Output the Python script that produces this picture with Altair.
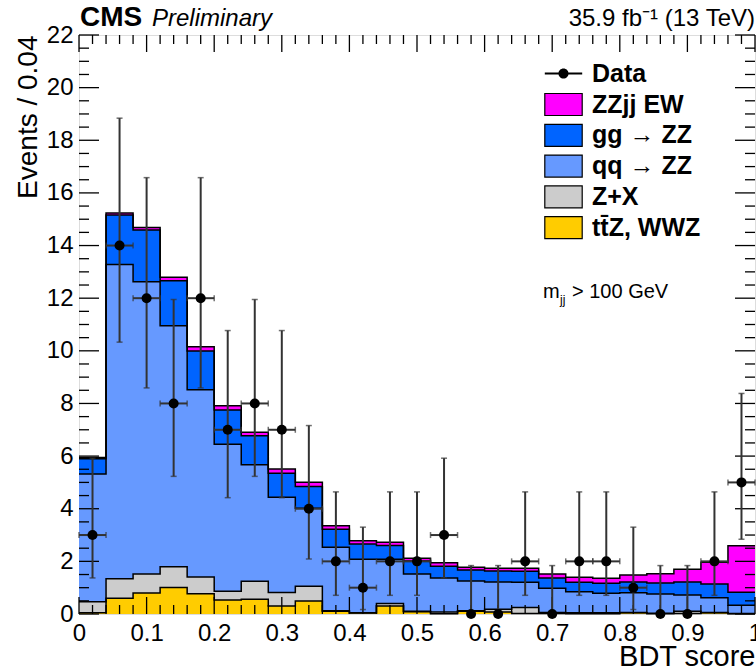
import altair as alt
import pandas as pd

# ---------------- data ----------------
bin_edges = [0.00, 0.04, 0.08, 0.12, 0.16, 0.20, 0.24, 0.28, 0.32, 0.36, 0.40, 0.44, 0.48,
             0.52, 0.56, 0.60, 0.64, 0.68, 0.72, 0.76, 0.80, 0.84, 0.88, 0.92, 0.96, 1.00]

ttz_wwz = [0.05, 0.60, 0.80, 1.01, 0.77, 0.53, 0.56, 0.30, 0.49, 0.10, 0.04, 0.30, 0.09,
           0.01, 0.10, 0.08, 0.02, 0.02, 0.01, 0.01, 0.05, 0.01, 0.02, 0.05, 0.01]
z_plus_x = [0.42, 0.74, 0.72, 0.79, 0.64, 0.33, 0.68, 0.52, 0.56, 0.02, 0.01, 0.10, 0.01,
            0.07, 0.02, 0.10, 0.23, 0.04, 0.04, 0.04, 0.01, 0.02, 0.08, 0.01, 0.01]
qq_zz = [4.85, 11.94, 11.10, 9.15, 7.11, 5.59, 4.43, 3.62, 2.97, 2.42, 2.03, 1.68, 1.42,
         1.29, 1.13, 1.04, 0.96, 0.92, 0.80, 0.74, 0.75, 0.73, 0.62, 0.56, 0.31]
gg_zz = [0.58, 1.88, 1.97, 1.71, 1.47, 1.30, 1.10, 0.91, 0.82, 0.68, 0.58, 0.52, 0.49,
         0.44, 0.42, 0.41, 0.41, 0.39, 0.36, 0.38, 0.41, 0.42, 0.50, 0.52, 0.50]
zzjj_ew = [0.05, 0.08, 0.10, 0.14, 0.16, 0.16, 0.14, 0.16, 0.17, 0.13, 0.12, 0.13, 0.11,
           0.14, 0.11, 0.11, 0.12, 0.15, 0.19, 0.19, 0.26, 0.35, 0.48, 0.83, 1.76]

data_counts = [3, 14, 12, 8, 12, 7, 8, 7, 4, 2, 1, 2, 2, 3, 0, 0, 2, 0, 2, 2, 1, 0, 0, 2, 5]
data_lo = [1.37, 10.33, 8.59, 5.23, 8.59, 4.42, 5.23, 4.42, 2.09, 0.71, 0.17, 0.71, 0.71,
           1.37, 0.00, 0.00, 0.71, 0.00, 0.71, 0.71, 0.17, 0.00, 0.00, 0.71, 2.84]
data_hi = [5.92, 18.84, 16.58, 11.95, 16.58, 10.77, 11.95, 10.77, 7.16, 4.64, 3.30, 4.64, 4.64,
           5.92, 1.84, 1.84, 4.64, 1.84, 4.64, 4.64, 3.30, 1.84, 1.84, 4.64, 8.38]

legend_labels = ["ZZjj EW", "gg \u2192 ZZ", "qq \u2192 ZZ", "Z+X", "tt\u0304Z, WWZ"]
legend_colors = ["#ff00ff", "#0064ff", "#6699ff", "#cccccc", "#ffcc00"]
data_label = "Data"

x_major = [0.0, 0.1, 0.2, 0.3, 0.4, 0.5, 0.6, 0.7, 0.8, 0.9, 1.0]
x_minor = [round(0.02 * i, 2) for i in range(51) if i % 5 != 0]
y_major = [0, 2, 4, 6, 8, 10, 12, 14, 16, 18, 20, 22]
y_minor = [0.5 * i for i in range(45) if i % 4 != 0]

# ---------------- tables ----------------
components = [
    ("tt\u0304Z, WWZ", ttz_wwz, 1),
    ("Z+X", z_plus_x, 2),
    ("qq \u2192 ZZ", qq_zz, 3),
    ("gg \u2192 ZZ", gg_zz, 4),
    ("ZZjj EW", zzjj_ew, 5),
]
rows = []
for name, vals, order in components:
    for i, e in enumerate(bin_edges):
        rows.append({"x": e, "v": vals[min(i, len(vals) - 1)], "comp": name, "order": order})
stack_df = pd.DataFrame(rows)

centers = [round((bin_edges[i] + bin_edges[i + 1]) / 2, 3) for i in range(25)]
pts_df = pd.DataFrame({
    "x": centers,
    "xlo": bin_edges[:-1],
    "xhi": bin_edges[1:],
    "n": data_counts,
    "lo": data_lo,
    "hi": data_hi,
    "lab": [data_label] * 25,
})
pts_nz = pts_df[pts_df["n"] > 0]

W, H = 676, 579
FONT = "Liberation Sans"

xs = alt.Scale(domain=[0, 1], nice=False, zero=False)
ys = alt.Scale(domain=[0, 22], nice=False, zero=True)

x_axis = alt.Axis(values=x_major, format="~g", ticks=False, domain=False, grid=False,
                  labelFont=FONT, labelFontSize=24, labelColor="black", labelPadding=7,
                  labelFlush=False, labelOverlap=False, labelBound=False,
                  title="BDT score", titleFont=FONT, titleFontSize=29, titleFontWeight="normal",
                  titleColor="black", titleAnchor="end", titlePadding=-3)
y_axis = alt.Axis(values=y_major, format="~g", ticks=False, domain=False, grid=False,
                  labelFont=FONT, labelFontSize=24, labelColor="black", labelPadding=6,
                  labelFlush=False, labelOverlap=False,
                  title="Events / 0.04", titleFont=FONT, titleFontSize=28, titleFontWeight="normal",
                  titleColor="black", titleAnchor="end", titlePadding=4)


def X(field):
    return alt.X(field, scale=xs, axis=x_axis)


def Y(field):
    return alt.Y(field, scale=ys, axis=y_axis)


RECT = "M-1.7,-1H1.7V1H-1.7Z"
DOT = ("M-1.7,-0.08H1.7V0.08H-1.7Z"
       "M-0.46,0A0.46,0.46,0,1,1,0.46,0A0.46,0.46,0,1,1,-0.46,0Z")

LEG_X = 472
common_leg = dict(title=None, orient="none", padding=0, symbolSize=484,
                  symbolStrokeColor="black", symbolOpacity=1, labelFont=FONT,
                  labelFontSize=25, labelFontWeight="bold", labelColor="black",
                  labelOffset=16, rowPadding=3.8, labelLimit=400)

legend = alt.Legend(legendX=LEG_X, legendY=57, symbolType=RECT,
                    symbolStrokeWidth=1.2, **common_leg)
data_legend = alt.Legend(legendX=LEG_X, legendY=26, symbolFillColor="black",
                         symbolStrokeWidth=0, **common_leg)

base = alt.Chart(stack_df).transform_stack(
    stack="v", groupby=["x"], as_=["y0", "y1"], sort=[alt.SortField("order", order="ascending")]
)

areas = base.mark_area(interpolate="step-after", opacity=1).encode(
    x=X("x:Q"),
    y=Y("y1:Q"),
    y2="y0:Q",
    color=alt.Color("comp:N", scale=alt.Scale(domain=legend_labels, range=legend_colors), legend=legend),
    order=alt.Order("order:Q"),
)

outlines = base.mark_line(interpolate="step-after", color="black", strokeWidth=1.5).encode(
    x=X("x:Q"),
    y=Y("y1:Q"),
    detail="comp:N",
)


# inward ticks on all four sides
def xticks(vals, length):
    df = pd.DataFrame({"v": vals})
    bot = alt.Chart(df).mark_rule(color="black", strokeWidth=1.3).encode(
        x=X("v:Q"), y=alt.value(H), y2=alt.value(H - length))
    top = alt.Chart(df).mark_rule(color="black", strokeWidth=1.3).encode(
        x=X("v:Q"), y=alt.value(0), y2=alt.value(length))
    return [bot, top]


def yticks(vals, length):
    df = pd.DataFrame({"v": vals})
    left = alt.Chart(df).mark_rule(color="black", strokeWidth=1.3).encode(
        y=Y("v:Q"), x=alt.value(0), x2=alt.value(length))
    right = alt.Chart(df).mark_rule(color="black", strokeWidth=1.3).encode(
        y=Y("v:Q"), x=alt.value(W - length), x2=alt.value(W))
    return [left, right]


tick_layers = xticks(x_major, 17) + xticks(x_minor, 9) + yticks(y_major, 20) + yticks(y_minor, 10)

ERR = "#333333"
vbars = alt.Chart(pts_df).mark_rule(color=ERR, strokeWidth=2).encode(
    x=X("x:Q"), y=Y("lo:Q"), y2="hi:Q")
vcap_lo = alt.Chart(pts_nz).mark_tick(color=ERR, orient="horizontal", size=6, thickness=1.5).encode(
    x=X("x:Q"), y=Y("lo:Q"))
vcap_hi = alt.Chart(pts_df).mark_tick(color=ERR, orient="horizontal", size=6, thickness=1.5).encode(
    x=X("x:Q"), y=Y("hi:Q"))
hbars = alt.Chart(pts_nz).mark_rule(color=ERR, strokeWidth=2).encode(
    x=X("xlo:Q"), x2="xhi:Q", y=Y("n:Q"))
hcap_lo = alt.Chart(pts_nz).mark_tick(color=ERR, orient="vertical", size=6, thickness=1.5).encode(
    x=X("xlo:Q"), y=Y("n:Q"))
hcap_hi = alt.Chart(pts_nz).mark_tick(color=ERR, orient="vertical", size=6, thickness=1.5).encode(
    x=X("xhi:Q"), y=Y("n:Q"))
points = alt.Chart(pts_df).mark_circle(color="black", size=100, opacity=1).encode(
    x=X("x:Q"), y=Y("n:Q"))

# invisible layer that only carries the "Data" legend entry
data_key = alt.Chart(pts_df.head(1)).mark_point(filled=True, opacity=0, color="black").encode(
    x=X("x:Q"), y=Y("n:Q"),
    shape=alt.Shape("lab:N", scale=alt.Scale(domain=[data_label], range=[DOT]), legend=data_legend),
)


def label(text, x, y, size, weight="normal", style="normal", align="left"):
    return alt.Chart(pd.DataFrame({"t": [text]})).mark_text(
        font=FONT, fontSize=size, fontWeight=weight, fontStyle=style, align=align,
        baseline="alphabetic", color="black").encode(
        text="t:N", x=alt.value(x), y=alt.value(y))


texts = [
    label("CMS", 1, -9, 28, weight="bold"),
    label("Preliminary", 73, -9, 24, style="italic"),
    label("35.9 fb\u207b\u00b9 (13 TeV)", W, -9, 24, align="right"),
    label("m", 464, 263, 20),
    label("jj", 481, 269, 12),
    label("> 100 GeV", 493, 263, 20),
]

chart = alt.layer(areas, outlines, *tick_layers, vbars, vcap_lo, vcap_hi, hbars, hcap_lo, hcap_hi,
                  points, data_key, *texts).properties(
    width=W, height=H,
    autosize=alt.AutoSizeParams(type="none"),
    padding={"left": 79, "top": 35, "right": 1, "bottom": 55},
).configure_view(stroke="black", strokeWidth=2).configure(background="white")

chart.save("out.html", embed_options={"renderer": "svg", "actions": False})
